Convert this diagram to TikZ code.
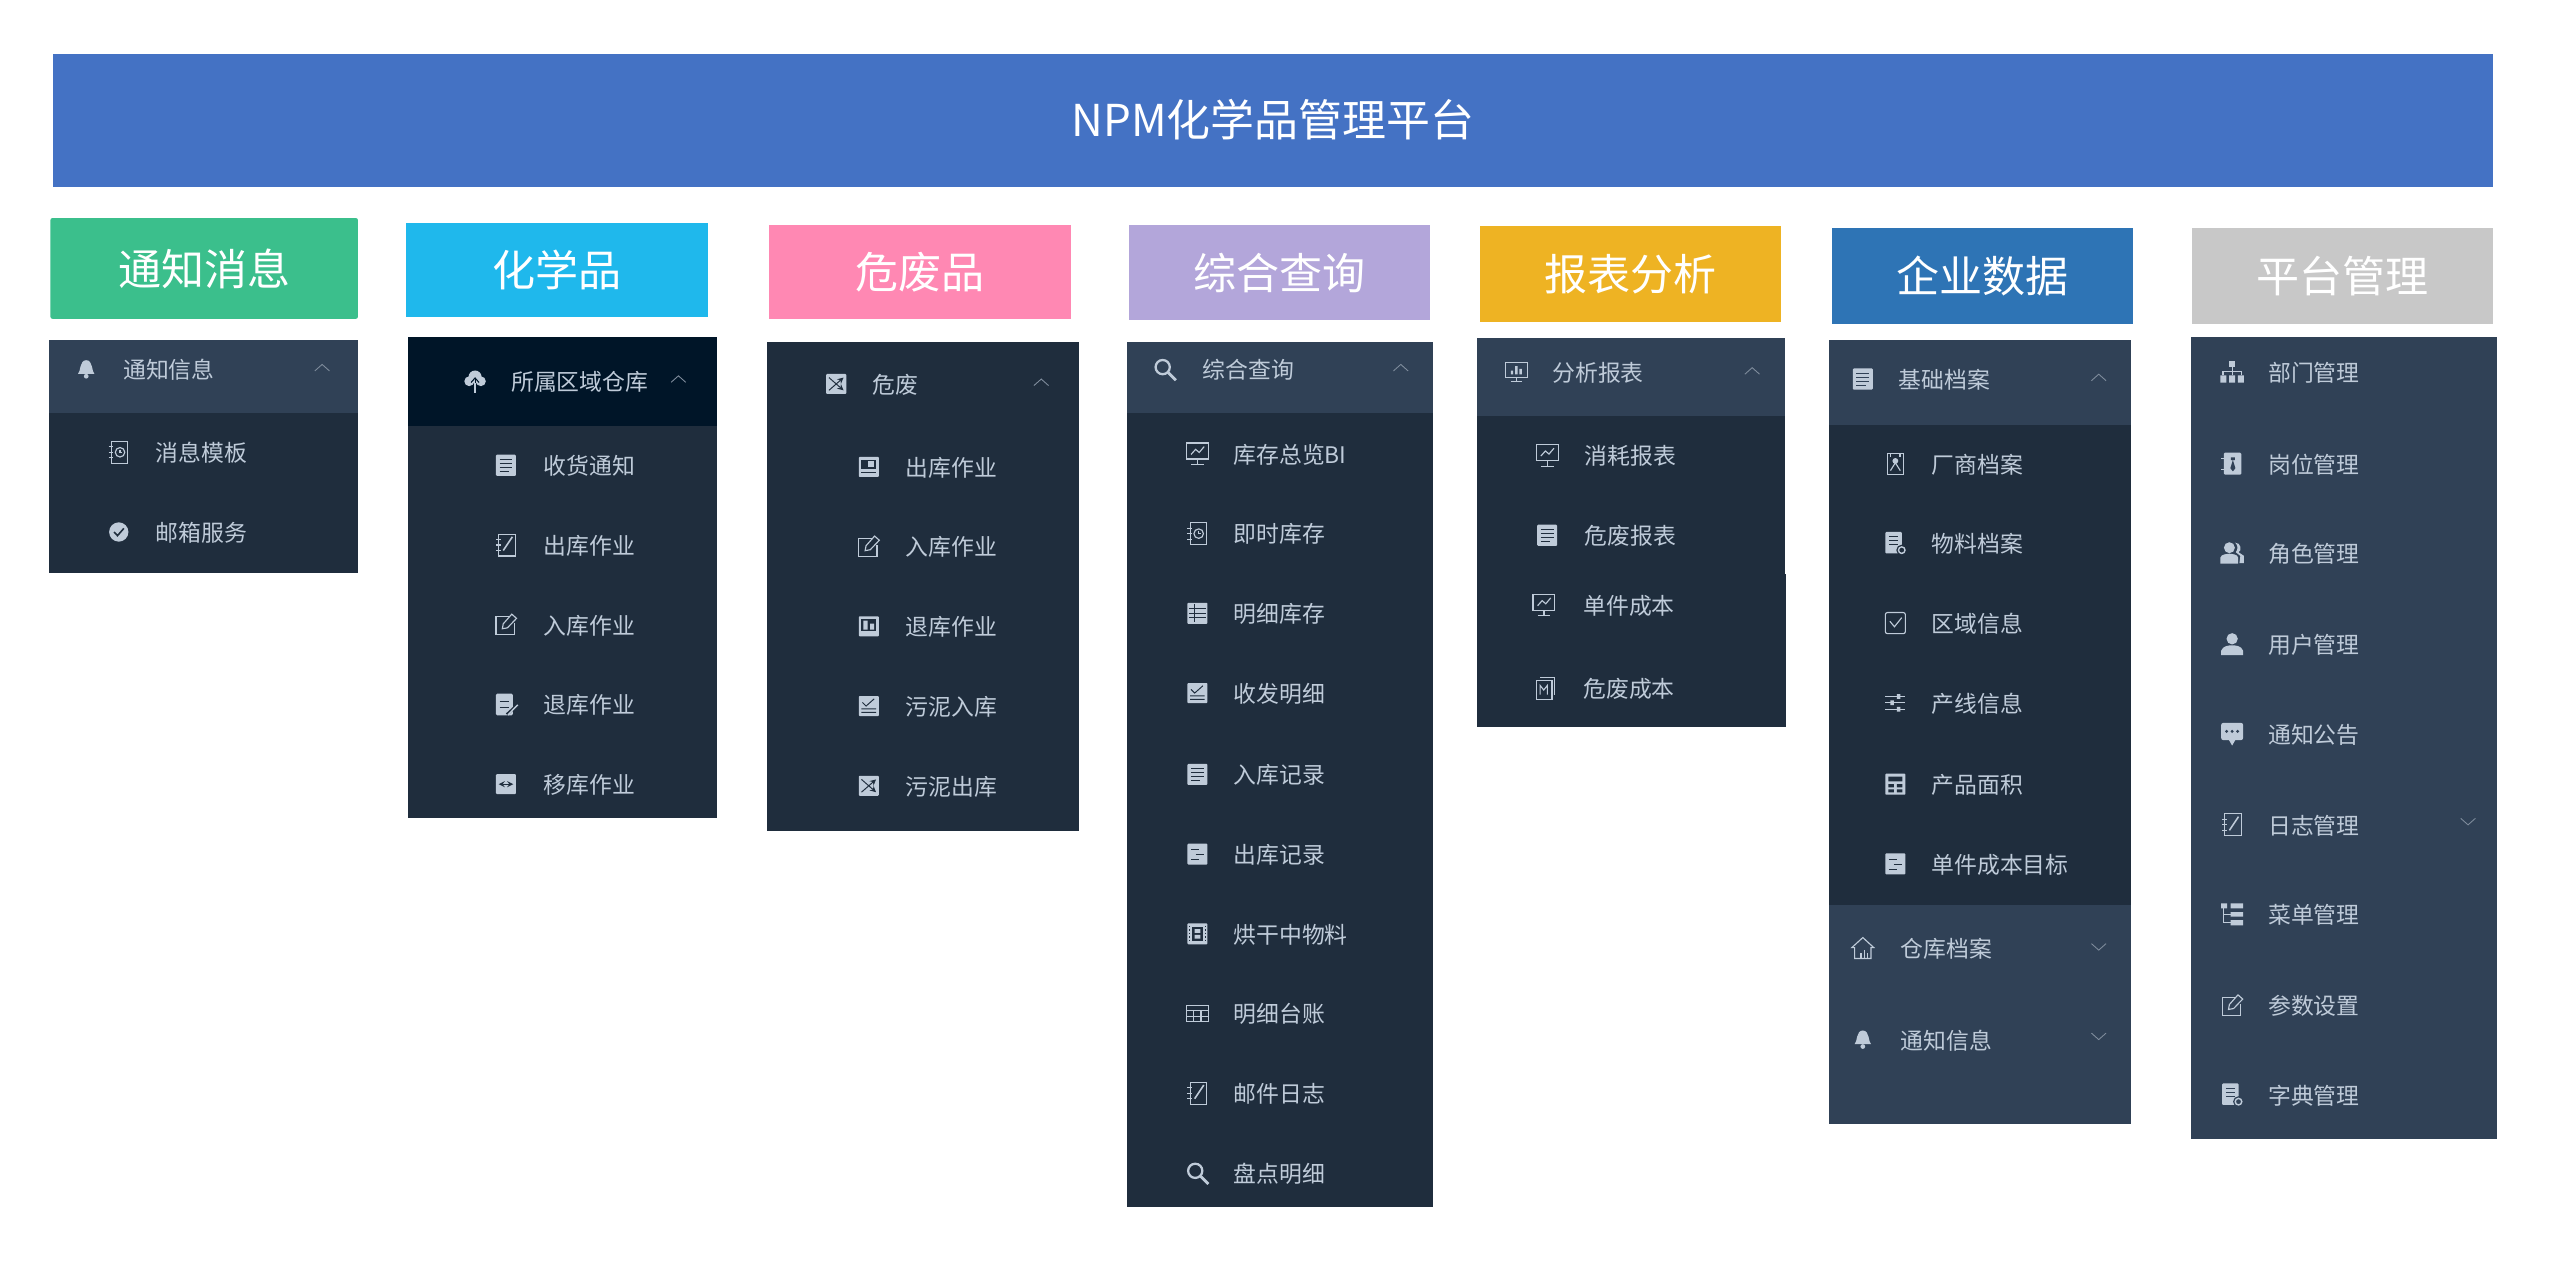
\documentclass[tikz,border=0pt]{standalone}
\usepackage{fontspec}
\setmainfont{Noto Sans CJK SC}
\definecolor{pdark}{HTML}{1F2D3D}
\definecolor{phead}{HTML}{304156}
\definecolor{psel}{HTML}{001528}
\definecolor{txtc}{HTML}{BFCBD9}
\definecolor{iconc}{HTML}{BFCBD9}
\definecolor{chevc}{HTML}{7F8C9C}
\colorlet{cut}{pdark}
\tikzset{
  x=0.03254cm,y=-0.03254cm,
  ic/.style={fill=iconc,draw=none},
  il/.style={draw=iconc,line width=0.65pt,fill=none},
  ct/.style={draw=cut,line width=0.55pt,fill=none},
  menutext/.style={anchor=west,inner sep=0pt,text=txtc,yshift=-0.4pt,font=\fontsize{13}{15}\selectfont},
  headtext/.style={inner sep=0pt,text=white,font=\fontsize{24.5}{28}\selectfont},
  titletext/.style={inner sep=0pt,text=white,font=\fontsize{25}{28}\selectfont},
  chev up/.pic={\draw[draw=chevc,line width=0.5pt] (-4.5,2)--(0,-2)--(4.5,2);},
  chev down/.pic={\draw[draw=chevc,line width=0.5pt] (-4.5,-2)--(0,2)--(4.5,-2);},
  ico bell/.pic={\fill[ic] (-4.5,2.5) .. controls (-3,1.5) and (-3.8,-5) .. (0,-5) .. controls (3.8,-5) and (3,1.5) .. (4.5,2.5) -- cycle; \fill[ic] (0,3.8) circle (1.3);},
  ico clockbook/.pic={\draw[il] (-4,-6) rectangle (5,6); \draw[il] (-5.5,-3)--(-3,-3) (-5.5,0)--(-3,0) (-5.5,3)--(-3,3); \draw[il] (0.7,0) circle (2.6); \draw[il] (0.7,-1.4)--(0.7,0)--(1.9,0);},
  ico badge/.pic={\fill[ic] (0,0) circle (5.3); \draw[draw=cut,line width=0.9pt] (-2.6,0)--(-0.7,2)--(2.8,-2);},
  ico cloud/.pic={\fill[ic] (-3.2,0.3) circle (2.7) (3.2,0.3) circle (2.7) (0,-2) circle (3.6); \draw[draw=cut,line width=0.6pt] (-2.2,1)--(0,-1.5)--(2.2,1); \draw[draw=iconc,line width=0.8pt] (0,0)--(0,6.5); \draw[draw=cut,line width=0.5pt] (0,-1)--(0,1);},
  ico doclist/.pic={\fill[ic,rounded corners=0.6] (-5.5,-5.8) rectangle (5.5,5.8); \draw[ct] (-3.5,-3.2)--(3.5,-3.2) (-3.5,-1)--(3.5,-1) (-3.5,1.2)--(3.5,1.2) (-3.5,3.4)--(1.5,3.4);},
  ico editdash/.pic={\draw[il] (-4,-6) rectangle (5,6); \draw[il] (-5.5,-3)--(-3,-3) (-5.5,0)--(-3,0) (-5.5,3)--(-3,3); \draw[draw=iconc,line width=0.9pt] (-1.5,3)--(3.5,-4.5);},
  ico edit/.pic={\draw[il] (1.5,-4.5)--(-5.5,-4.5)--(-5.5,5.5)--(4.5,5.5)--(4.5,-1); \draw[il] (-2,2.2)--(-1.5,-0.5)--(3.2,-5.8)--(5.8,-3.5)--(0.8,1.7)--cycle;},
  ico docpen/.pic={\fill[ic,rounded corners=0.8] (-5.5,-6) rectangle (3.8,6); \draw[ct] (-3.5,-1.5)--(1.5,-1.5) (-3.5,1.5)--(1.5,1.5); \draw[draw=cut,line width=1.6pt] (0.5,5.5)--(6,0.5); \draw[draw=iconc,line width=0.8pt] (1,5.8)--(6.5,0.2);},
  ico swap/.pic={\fill[ic,rounded corners=0.6] (-5.5,-5.5) rectangle (5.5,5.5); \draw[ct,<->,>=stealth] (-4,0)--(4,0);},
  ico shuffle/.pic={\fill[ic,rounded corners=0.5] (-5.5,-5.5) rectangle (5.5,5.5); \draw[ct,->,>=stealth] (-4,-3.5)--(4,3.5); \draw[ct,->,>=stealth] (-4,3.5)--(4,-3.5);},
  ico news/.pic={\fill[ic,rounded corners=0.5] (-5.5,-5.5) rectangle (5.5,5.5); \fill[cut] (-4,-4) rectangle (4,1); \fill[ic] (-0.5,-3) rectangle (3,0); \draw[ct] (-4,3)--(4,3);},
  ico bars/.pic={\fill[ic,rounded corners=0.5] (-5.5,-5.5) rectangle (5.5,5.5); \fill[cut] (-4,-4) rectangle (4,2.5); \fill[ic] (-3,-3.2) rectangle (-0.7,1.8) (0.8,-1.5) rectangle (3,1.8);},
  ico checklist/.pic={\fill[ic,rounded corners=0.5] (-5.5,-5.5) rectangle (5.5,5.5); \draw[ct] (-3.5,-2)--(-1.5,0)--(3,-4) (-4,1.5)--(4,1.5) (-4,3.5)--(4,3.5);},
  ico monitor/.pic={\draw[il] (-6,-6) rectangle (6,2.8); \draw[il] (-3.5,0.3)--(-1,-2.5)--(1,-0.8)--(3.7,-4); \draw[il] (0,2.8)--(0,5.8) (-3.5,5.8)--(3.5,5.8);},
  ico monitorbar/.pic={\draw[il] (-6,-5.5) rectangle (6,2.5); \fill[ic] (-3,-1) rectangle (-1.7,1) (-0.7,-3.5) rectangle (0.7,1) (1.7,-2) rectangle (3,1); \draw[il] (0,2.5)--(0,5) (-3,5)--(3,5);},
  ico tablelist/.pic={\fill[ic,rounded corners=0.5] (-5.5,-5.8) rectangle (5.5,5.8); \draw[ct] (-1.8,-5)--(-1.8,5) (-4.5,-2.5)--(4.5,-2.5) (-4.5,0)--(4.5,0) (-4.5,2.5)--(4.5,2.5);},
  ico search/.pic={\draw[draw=iconc,line width=1.3pt] (-1.2,-1.2) circle (3.9); \draw[draw=iconc,line width=1.6pt] (1.8,1.8)--(6,6);},
  ico docrows/.pic={\fill[ic,rounded corners=0.6] (-5.5,-5.8) rectangle (5.5,5.8); \draw[draw=cut,line width=0.8pt] (-3.5,-2.5)--(1,-2.5) (-1,0.3)--(3.5,0.3) (-3.5,3)--(1,3);},
  ico film/.pic={\fill[ic,rounded corners=0.6] (-5.5,-5.8) rectangle (5.5,5.8); \fill[cut] (-2.8,-3.8) rectangle (2.8,3.8); \fill[ic] (-1.6,-2.6) rectangle (1.6,-0.5) (-1.6,0.5) rectangle (1.6,2.6); \draw[ct,dash pattern=on 1pt off 1pt] (-4.2,-4.5)--(-4.2,4.5) (4.2,-4.5)--(4.2,4.5);},
  ico table/.pic={\draw[il] (-6,-4.5) rectangle (6,4.5); \draw[il] (-6,-1.5)--(6,-1.5) (-6,1.5)--(6,1.5) (-2,-1.5)--(-2,4.5) (2,-1.5)--(2,4.5);},
  ico calc/.pic={\draw[il] (-5,-4) rectangle (3.5,6); \draw[il] (-3,-6)--(5,-6)--(5,3.5); \draw[il] (-3,3.5)--(-3,-1.5)--(-1,1)--(1,-1.5)--(1,3.5);},
  ico idbadge/.pic={\draw[il] (-4.5,-5.8) rectangle (4.5,5.8); \draw[il] (-2.5,-5.8)--(-2.5,-3.8) (2.5,-5.8)--(2.5,-3.8); \fill[ic] (0,-1.5) circle (1.6); \draw[il] (-2.7,3.8)--(0,-0.5)--(2.7,3.8);},
  ico docgear/.pic={\fill[ic,rounded corners=0.6] (-5.5,-6.3) rectangle (3.5,5.5); \draw[ct] (-3.5,-3.8)--(1.5,-3.8) (-3.5,-1.5)--(1.5,-1.5) (-3.5,0.8)--(1.5,0.8); \fill[cut] (3.5,3.7) circle (3); \draw[draw=iconc,line width=0.8pt] (3.5,3.7) circle (1.8);},
  ico checkbox/.pic={\draw[il,rounded corners=1.2] (-5.5,-5.8) rectangle (5.5,5.8); \draw[il] (-3,-1)--(-0.5,2)--(3.5,-3);},
  ico sliders/.pic={\draw[il] (-5.5,-3.5)--(5.5,-3.5) (-5.5,0)--(5.5,0) (-5.5,3.5)--(5.5,3.5); \fill[ic] (0.8,-4.8) rectangle (2.8,-2.2) (-2.8,-1.3) rectangle (-0.8,1.3) (0.8,2.2) rectangle (2.8,4.8);},
  ico calctwo/.pic={\fill[ic,rounded corners=0.5] (-5.5,-5.8) rectangle (5.5,5.8); \fill[cut] (-3.8,-4.2) rectangle (3.8,-1.5) (-3.8,0) rectangle (-0.8,1.8) (0.8,0) rectangle (3.8,1.8) (-3.8,2.8) rectangle (-0.8,4.5) (0.8,2.8) rectangle (3.8,4.5);},
  ico house/.pic={\draw[il] (0,-6)--(6,-0.5)--(4.5,-0.5)--(4.5,5.5)--(-4.5,5.5)--(-4.5,-0.5)--(-6,-0.5)--cycle; \draw[il] (-1,5.5)--(-1,2.5) (0.8,5.5)--(0.8,1) (2.6,5.5)--(2.6,2.5);},
  ico org/.pic={\fill[ic] (-1.7,-6.5) rectangle (1.7,-2.8); \draw[draw=iconc,line width=0.7pt] (0,-2.8)--(0,1.5) (-5,1.5)--(-5,-0.5)--(5,-0.5)--(5,1.5); \fill[ic] (-6.5,1.5) rectangle (-3.2,5.5) (-1.7,1.5) rectangle (1.7,5.5) (3.2,1.5) rectangle (6.5,5.5);},
  ico postcard/.pic={\fill[ic,rounded corners=0.6] (-4.5,-6) rectangle (5,6); \draw[il] (-6,-3)--(-4.5,-3) (-6,3)--(-4.5,3); \fill[cut] (-0.7,-3.5) rectangle (1.5,-2) (0.4,-2)--(-1,2.5)--(0.4,4.2)--(1.8,2.5)--cycle;},
  ico users/.pic={\fill[ic] (4,5.5)--(4.5,1.5)--(2,-0.5) .. controls (3.5,-2) and (3,-5) .. (1.5,-5.8) .. controls (5,-6) and (5.5,-1) .. (3.5,-0.5)--(6.5,1.5)--(6.5,5.5)--cycle; \fill[ic] (-1.5,-3) circle (3); \fill[ic] (-6.5,5.8)--(-6.5,2.5) .. controls (-6,0.5) and (-3,0.5) .. (-1.5,0.3) .. controls (0,0.5) and (3,0.5) .. (3.3,2.5)--(3.3,5.8)--cycle;},
  ico user/.pic={\fill[ic] (0,-3) circle (3.1); \fill[ic] (-6,6)--(-6,3.5) .. controls (-5,0.8) and (-2,0.6) .. (0,0.6) .. controls (2,0.6) and (5,0.8) .. (6,3.5)--(6,6)--cycle;},
  ico chat/.pic={\fill[ic,rounded corners=1.2] (-6,-6) rectangle (6,3.5); \fill[ic] (-2,3)--(0,6.5)--(2,3)--cycle; \fill[cut] (-3,-1.3) circle (0.9) (0,-1.3) circle (0.9) (3,-1.3) circle (0.9);},
  ico tree/.pic={\fill[ic] (-6,-6) rectangle (-2.8,-3.2) (-0.8,-6) rectangle (6,-3.2) (-0.8,-1.2) rectangle (6,1.2) (-0.8,3.2) rectangle (6,6); \draw[draw=iconc,line width=0.6pt] (-4.8,-3.2)--(-4.8,4.6)--(-0.8,4.6) (-4.8,0)--(-0.8,0);},
}
\newcommand{\panelrect}[5]{\fill[#5] (#1,#2) rectangle (#3,#4);}
\newcommand{\hdrbox}[7]{\fill[#6] (#2,#3) rectangle (#4,#5); \node[headtext] (#1) at ({(#2+#4)/2},{(#3+#5)/2}) {#7};}
\newcommand{\mitem}[6]{\pic[scale=1.12] at (#2,#4) {ico #5}; \node[menutext] (#1) at (#3,#4) {#6};}
\newcommand{\chevup}[2]{\pic at (#1,#2) {chev up};}
\newcommand{\chevdn}[2]{\pic at (#1,#2) {chev down};}
\begin{document}
\begin{tikzpicture}
\useasboundingbox (0,0) rectangle (1568,778.7);
% title
\fill[fill={rgb,255:red,68;green,114;blue,196}] (32.5,33) rectangle (1532.5,115);
\node[titletext] (title) at (782.5,73.5) {NPM化学品管理平台};
% headers
\definecolor{hA}{HTML}{3BBF8C}\definecolor{hB}{HTML}{1FB8EC}\definecolor{hC}{HTML}{FF88B3}
\definecolor{hD}{HTML}{B3A6DA}\definecolor{hE}{HTML}{EEB323}\definecolor{hF}{HTML}{2E74B5}\definecolor{hG}{HTML}{C8C8C8}
\fill[hA,rounded corners=1.2] (31,134) rectangle (220,196);
\node[headtext] (hdrA) at (125.5,165) {通知消息};
\hdrbox{hdrB}{249.5}{137}{435}{195}{hB}{化学品}
\hdrbox{hdrC}{472.5}{138}{658}{196}{hC}{危废品}
\hdrbox{hdrD}{694}{138}{879}{197}{hD}{综合查询}
\hdrbox{hdrE}{909.5}{139}{1095}{198}{hE}{报表分析}
\hdrbox{hdrF}{1126}{140}{1311}{199}{hF}{企业数据}
\hdrbox{hdrG}{1347.5}{140}{1532.5}{199}{hG}{平台管理}
% panel 1
\panelrect{30}{209}{220}{352}{pdark}
\panelrect{30}{209}{220}{254}{phead}
\colorlet{cut}{phead}
\mitem{aH}{53}{75.5}{227}{bell}{通知信息}\chevup{198}{226}
\colorlet{cut}{pdark}
\mitem{aA}{73}{95.5}{278}{clockbook}{消息模板}
\mitem{aB}{73}{95.5}{327}{badge}{邮箱服务}
% panel 2
\panelrect{251}{207}{441}{503}{pdark}
\panelrect{251}{207}{441}{262}{psel}
\colorlet{cut}{psel}
\mitem{bH}{292}{314}{234}{cloud}{所属区域仓库}\chevup{417}{233}
\colorlet{cut}{pdark}
\mitem{bA}{311}{334}{286}{doclist}{收货通知}
\mitem{bB}{311}{334}{335}{editdash}{出库作业}
\mitem{bC}{311}{334}{384}{edit}{入库作业}
\mitem{bD}{311}{334}{433}{docpen}{退库作业}
\mitem{bE}{311}{334}{482}{swap}{移库作业}
% panel 3
\panelrect{471.5}{210}{663}{511}{pdark}
\mitem{cH}{514}{536}{236}{shuffle}{危废}\chevup{640}{235}
\mitem{cA}{534}{556.5}{287}{news}{出库作业}
\mitem{cB}{534}{556.5}{336}{edit}{入库作业}
\mitem{cC}{534}{556.5}{385}{bars}{退库作业}
\mitem{cD}{534}{556.5}{434}{checklist}{污泥入库}
\mitem{cE}{534}{556.5}{483}{shuffle}{污泥出库}
% panel 4
\panelrect{693}{210}{881}{742}{pdark}
\panelrect{693}{210}{881}{254}{phead}
\colorlet{cut}{phead}
\mitem{dH}{716}{739}{227}{search}{综合查询}\chevup{861}{226}
\colorlet{cut}{pdark}
\mitem{dA}{736}{758}{279}{monitor}{库存总览BI}
\mitem{dB}{736}{758}{328}{clockbook}{即时库存}
\mitem{dC}{736}{758}{377}{tablelist}{明细库存}
\mitem{dD}{736}{758}{426}{checklist}{收发明细}
\mitem{dE}{736}{758}{476}{doclist}{入库记录}
\mitem{dF}{736}{758}{525}{docrows}{出库记录}
\mitem{dG}{736}{758}{574}{film}{烘干中物料}
\mitem{dI}{736}{758}{623}{table}{明细台账}
\mitem{dJ}{736}{758}{672}{editdash}{邮件日志}
\mitem{dK}{736}{758}{721}{search}{盘点明细}
% panel 5
\panelrect{908}{208}{1097}{353}{pdark}
\panelrect{908}{353}{1098}{447}{pdark}
\panelrect{908}{208}{1097}{256}{phead}
\colorlet{cut}{phead}
\mitem{eH}{932}{954}{229}{monitorbar}{分析报表}\chevup{1077}{228}
\colorlet{cut}{pdark}
\mitem{eA}{951}{974}{280}{monitor}{消耗报表}
\mitem{eB}{951}{974}{329}{doclist}{危废报表}
\mitem{eC}{949}{973}{372}{monitor}{单件成本}
\mitem{eD}{950}{973}{423}{calc}{危废成本}
% panel 6
\panelrect{1124}{209}{1310}{691}{phead}
\panelrect{1124}{261}{1310}{556}{pdark}
\colorlet{cut}{phead}
\mitem{fH}{1145}{1167}{233}{doclist}{基础档案}\chevup{1290}{232}
\colorlet{cut}{pdark}
\mitem{fA}{1165}{1187}{285}{idbadge}{厂商档案}
\mitem{fB}{1165}{1187}{334}{docgear}{物料档案}
\mitem{fC}{1165}{1187}{383}{checkbox}{区域信息}
\mitem{fD}{1165}{1187}{432}{sliders}{产线信息}
\mitem{fE}{1165}{1187}{482}{calctwo}{产品面积}
\mitem{fF}{1165}{1187}{531}{docrows}{单件成本目标}
\colorlet{cut}{phead}
\mitem{fG}{1145}{1168}{583}{house}{仓库档案}\chevdn{1290}{582}
\mitem{fI}{1145}{1168}{639}{bell}{通知信息}\chevdn{1290}{637}
% panel 7
\panelrect{1347}{207}{1535}{700}{phead}
\mitem{gA}{1372}{1394}{229}{org}{部门管理}
\mitem{gB}{1372}{1394}{285}{postcard}{岗位管理}
\mitem{gC}{1372}{1394}{340}{users}{角色管理}
\mitem{gD}{1372}{1394}{396}{user}{用户管理}
\mitem{gE}{1372}{1394}{451}{chat}{通知公告}
\mitem{gF}{1372}{1394}{507}{editdash}{日志管理}\chevdn{1517}{505}
\mitem{gG}{1372}{1394}{562}{tree}{菜单管理}
\mitem{gH}{1372}{1394}{618}{edit}{参数设置}
\mitem{gI}{1372}{1394}{673}{docgear}{字典管理}
\end{tikzpicture}
\end{document}
